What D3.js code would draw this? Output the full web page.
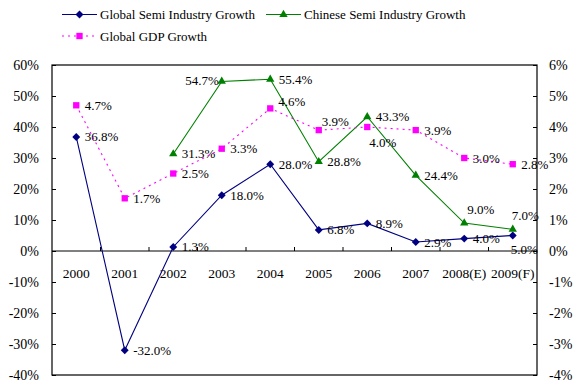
<!DOCTYPE html>
<html>
<head>
<meta charset="utf-8">
<script src="https://cdn.jsdelivr.net/npm/d3@7"></script>
<style>
  body { margin: 0; background: #fff; }
  text { font-family: "Liberation Serif", "Times New Roman", serif; fill: #000; }
</style>
</head>
<body>
<div id="chart"></div>
<script>
const years = ['2000', '2001', '2002', '2003', '2004', '2005', '2006', '2007', '2008(E)', '2009(F)'];
const globalSemi = [36.8, -32.0, 1.3, 18.0, 28.0, 6.8, 8.9, 2.9, 4.0, 5.0];
const chineseSemi = [null, null, 31.3, 54.7, 55.4, 28.8, 43.3, 24.4, 9.0, 7.0];
const globalGdp = [4.7, 1.7, 2.5, 3.3, 4.6, 3.9, 4.0, 3.9, 3.0, 2.8];
const leftTicks = [60, 50, 40, 30, 20, 10, 0, -10, -20, -30, -40];
const rightTicks = [6, 5, 4, 3, 2, 1, 0, -1, -2, -3, -4];

// label nudges where Excel moved labels off the default right-side spot
const labelNudge = {
  'chinese-2003': { dx: -3, dy: 4, anchor: 'end' },
  'gdp-2004': { dx: 8, dy: -2 },
  'gdp-2005': { dx: 3, dy: -4 },
  'gdp-2006': { dx: 2, dy: 20 },
  'chinese-2008(E)': { dx: 3, dy: -9 },
  'chinese-2009(F)': { dx: -1, dy: -9 },
  'global-2009(F)': { dx: -2, dy: 18 }
};

const width = 580;
const height = 389;
const plot = { left: 52, right: 537, top: 65, bottom: 375 };

const svg = d3.select('#chart').append('svg')
  .attr('width', width)
  .attr('height', height);

const x = d3.scaleBand()
  .domain(years)
  .range([plot.left, plot.right]);

const yL = d3.scaleLinear()
  .domain([-40, 60])
  .range([plot.bottom, plot.top]);

const yR = d3.scaleLinear()
  .domain([-4, 6])
  .range([plot.bottom, plot.top]);

const cx = d => x(d) + x.bandwidth() / 2;

// frame
svg.append('rect')
  .attr('x', plot.left).attr('y', plot.top)
  .attr('width', plot.right - plot.left)
  .attr('height', plot.bottom - plot.top)
  .attr('fill', 'none')
  .attr('stroke', '#000')
  .attr('stroke-width', 1.2);

// left axis
const leftAxis = svg.append('g')
  .attr('transform', `translate(${plot.left},0)`)
  .call(d3.axisLeft(yL).tickValues(leftTicks).tickSizeInner(-4).tickSizeOuter(0)
    .tickFormat(d => d + '%').tickPadding(13));
leftAxis.select('.domain').remove();
leftAxis.selectAll('text').attr('font-size', 14).attr('dy', '0.34em')
  .style('font-family', '"Liberation Serif", serif');

// right axis
const rightAxis = svg.append('g')
  .attr('transform', `translate(${plot.right},0)`)
  .call(d3.axisRight(yR).tickValues(rightTicks).tickSizeInner(-4).tickSizeOuter(0)
    .tickFormat(d => d + '%').tickPadding(12));
rightAxis.select('.domain').remove();
rightAxis.selectAll('text').attr('font-size', 14).attr('dy', '0.34em')
  .style('font-family', '"Liberation Serif", serif');

// zero line with category ticks
svg.append('line')
  .attr('x1', plot.left).attr('x2', plot.right)
  .attr('y1', yL(0)).attr('y2', yL(0))
  .attr('stroke', '#000');

const xAxis = svg.append('g')
  .attr('transform', `translate(0,${yL(0)})`)
  .call(d3.axisBottom(x).tickSize(0).tickPadding(17));
xAxis.select('.domain').remove();
xAxis.selectAll('text').attr('font-size', 13.5)
  .style('font-family', '"Liberation Serif", serif');

svg.append('g').selectAll('line')
  .data(years.slice(1))
  .enter()
  .append('line')
  .attr('x1', d => x(d)).attr('x2', d => x(d))
  .attr('y1', yL(0)).attr('y2', yL(0) - 4)
  .attr('stroke', '#000');

const series = [
  { key: 'global', values: globalSemi, y: yL, color: '#000080', dash: null, marker: 'diamond' },
  { key: 'chinese', values: chineseSemi, y: yL, color: '#008000', dash: null, marker: 'triangle' },
  { key: 'gdp', values: globalGdp, y: yR, color: '#FF00FF', dash: '2,4', marker: 'square' }
];

const symbols = {
  diamond: d3.symbol().type(d3.symbolDiamond2).size(40),
  triangle: d3.symbol().type(d3.symbolTriangle).size(30),
  square: d3.symbol().type(d3.symbolSquare).size(40)
};

series.forEach(s => {
  const pts = years.map((yr, i) => ({ yr, v: s.values[i] })).filter(p => p.v !== null);

  const line = d3.line()
    .x(p => cx(p.yr))
    .y(p => s.y(p.v));

  svg.append('path')
    .datum(pts)
    .attr('d', line)
    .attr('fill', 'none')
    .attr('stroke', s.color)
    .attr('stroke-width', 1.1)
    .attr('stroke-dasharray', s.dash);

  svg.append('g').selectAll('path')
    .data(pts)
    .enter()
    .append('path')
    .attr('d', symbols[s.marker])
    .attr('transform', p => `translate(${cx(p.yr)},${s.y(p.v)})`)
    .attr('fill', s.color);

  svg.append('g').selectAll('text')
    .data(pts)
    .enter()
    .append('text')
    .attr('x', p => cx(p.yr) + (labelNudge[s.key + '-' + p.yr] || { dx: 8.5 }).dx)
    .attr('y', p => s.y(p.v) + (labelNudge[s.key + '-' + p.yr] || { dy: 4.5 }).dy)
    .attr('text-anchor', p => (labelNudge[s.key + '-' + p.yr] || {}).anchor || 'start')
    .attr('font-size', 13)
    .text(p => p.v.toFixed(1) + '%');
});

// legend
const legend = [
  { label: 'Global Semi Industry Growth', s: series[0], x: 62, y: 14.5 },
  { label: 'Chinese Semi Industry Growth', s: series[1], x: 266, y: 14.5 },
  { label: 'Global GDP Growth', s: series[2], x: 62, y: 36 }
];

const lg = svg.append('g').selectAll('g')
  .data(legend)
  .enter()
  .append('g')
  .attr('transform', d => `translate(${d.x},${d.y})`);

lg.append('line')
  .attr('x1', 0).attr('x2', 35)
  .attr('stroke', d => d.s.color)
  .attr('stroke-width', 1.1)
  .attr('stroke-dasharray', d => d.s.dash);

lg.append('path')
  .attr('d', d => symbols[d.s.marker]())
  .attr('transform', 'translate(17.5,0)')
  .attr('fill', d => d.s.color);

lg.append('text')
  .attr('x', 38)
  .attr('y', 4.5)
  .attr('font-size', 13)
  .text(d => d.label);
</script>
</body>
</html>
